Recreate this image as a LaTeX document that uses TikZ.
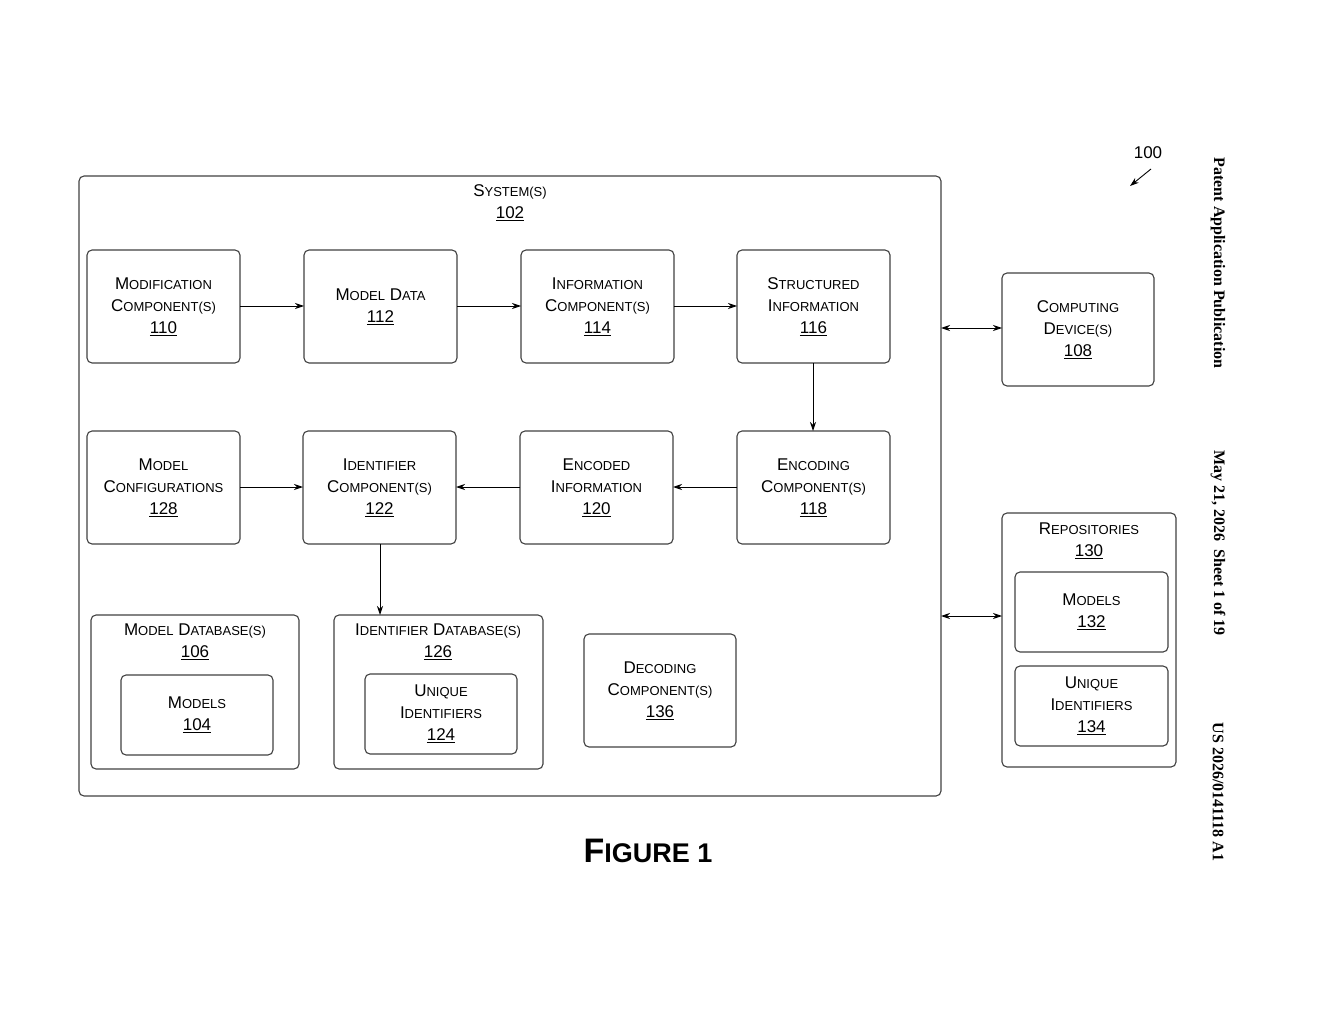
\documentclass[tikz,border=0pt]{standalone}
\usepackage{fontspec}
\setmainfont{Liberation Sans}
\newfontfamily\serifb{Liberation Serif}
\usetikzlibrary{arrows.meta}
\newcommand\smc[1]{{\fontsize{13}{15}\selectfont #1}}
\begin{document}
\begin{tikzpicture}[x=1pt,y=-1pt,
 box/.style={draw=black!75,line width=1.1pt,rounded corners=5pt},
 lbl/.style={align=center,font=\fontsize{17}{22}\selectfont,inner sep=0pt},
 arr/.style={-{Stealth[length=9pt,width=6pt]},line width=0.9pt},
 darr/.style={{Stealth[length=9pt,width=6pt]}-{Stealth[length=9pt,width=6pt]},line width=0.9pt}]
\useasboundingbox (0,0) rectangle (1320,1024);
\newcommand\bx[6]{\draw[box] (#2,#3) rectangle (#4,#5); \path (#2,#3) -- node[lbl] (#1) {#6} (#4,#5);
 \coordinate (#1nw) at (#2,#3); \coordinate (#1se) at (#4,#5);}
% outer
\draw[box] (79,176) rectangle (941,796);
\node[lbl] (sys) at (510,203) {S\smc{YSTEM(S)}\\\underline{102}};
\bx{b110}{87}{250}{240}{363}{M\smc{ODIFICATION}\\C\smc{OMPONENT(S)}\\\underline{110}}
\bx{b112}{304}{250}{457}{363}{M\smc{ODEL} D\smc{ATA}\\\underline{112}}
\bx{b114}{521}{250}{674}{363}{I\smc{NFORMATION}\\C\smc{OMPONENT(S)}\\\underline{114}}
\bx{b116}{737}{250}{890}{363}{S\smc{TRUCTURED}\\I\smc{NFORMATION}\\\underline{116}}
\bx{b128}{87}{431}{240}{544}{M\smc{ODEL}\\C\smc{ONFIGURATIONS}\\\underline{128}}
\bx{b122}{303}{431}{456}{544}{I\smc{DENTIFIER}\\C\smc{OMPONENT(S)}\\\underline{122}}
\bx{b120}{520}{431}{673}{544}{E\smc{NCODED}\\I\smc{NFORMATION}\\\underline{120}}
\bx{b118}{737}{431}{890}{544}{E\smc{NCODING}\\C\smc{OMPONENT(S)}\\\underline{118}}
% databases
\draw[box] (91,615) rectangle (299,769);
\node[lbl] (b106) at (195,642) {M\smc{ODEL} D\smc{ATABASE(S)}\\\underline{106}};
\bx{b104}{121}{675}{273}{755}{M\smc{ODELS}\\\underline{104}}
\draw[box] (334,615) rectangle (543,769);
\node[lbl] (b126) at (438,642) {I\smc{DENTIFIER} D\smc{ATABASE(S)}\\\underline{126}};
\coordinate (b126top) at (380,615);
\bx{b124}{365}{674}{517}{754}{U\smc{NIQUE}\\I\smc{DENTIFIERS}\\\underline{124}}
\bx{b136}{584}{634}{736}{747}{D\smc{ECODING}\\C\smc{OMPONENT(S)}\\\underline{136}}
% right side
\bx{b108}{1002}{273}{1154}{386}{C\smc{OMPUTING}\\D\smc{EVICE(S)}\\\underline{108}}
\draw[box] (1002,513) rectangle (1176,767);
\node[lbl] (b130) at (1089,541) {R\smc{EPOSITORIES}\\\underline{130}};
\bx{b132}{1015}{572}{1168}{652}{M\smc{ODELS}\\\underline{132}}
\bx{b134}{1015}{666}{1168}{746}{U\smc{NIQUE}\\I\smc{DENTIFIERS}\\\underline{134}}
% arrows
\coordinate (s1) at (941,328); \coordinate (s2) at (941,616);
\coordinate (r2) at (1002,616);
\draw[arr] (240,306) -- (304,306);
\draw[arr] (457,306) -- (521,306);
\draw[arr] (674,306) -- (737,306);
\draw[arr] (813,363) -- (813,431);
\draw[arr] (737,487) -- (673,487);
\draw[arr] (520,487) -- (456,487);
\draw[arr] (240,487) -- (303,487);
\draw[arr] (380,544) -- (b126top);
\draw[darr] (s1) -- (1002,328);
\draw[darr] (s2) -- (r2);
% labels
\node[lbl] (n100) at (1148,153) {100};
\coordinate (a1) at (1151,169); \coordinate (a2) at (1130,186);
\draw[arr] (a1) -- (a2);
\node[inner sep=0pt,font=\fontsize{34}{40}\selectfont\bfseries] (fig) at (648,851) {F\fontsize{27}{30}\selectfont IGURE 1};
\begin{scope}[every node/.style={rotate=-90,inner sep=0pt,font=\serifb\bfseries\fontsize{16}{18}\selectfont}]
\node (h1) at (1218,263) {Patent Application Publication};
\node (h2) at (1218,543) {May 21, 2026\ \ Sheet 1 of 19};
\node (h3) at (1218,792) {US 2026/0141118 A1};
\end{scope}
\end{tikzpicture}
\end{document}
